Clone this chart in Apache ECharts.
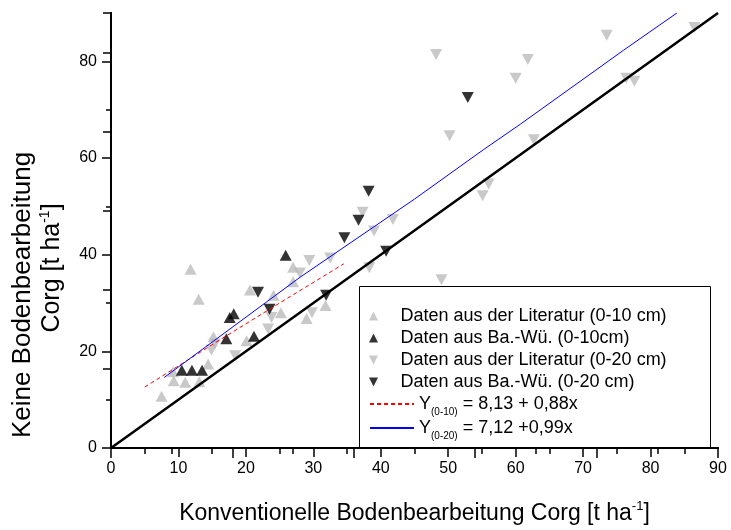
<!DOCTYPE html>
<html>
<head>
<meta charset="utf-8">
<script src="https://cdn.jsdelivr.net/npm/echarts@6/dist/echarts.min.js"></script>
<style>
    html, body { margin: 0; padding: 0; background: #fff; }
    #main { width: 731px; height: 530px; }
</style>
</head>
<body>
<div id="main"></div>
<script>
// Literatur 0-10 cm (grau, Spitze oben)
var litUp = [
    [7.5, 10.7], [9.2, 15.8], [9.3, 13.9], [11.0, 13.6], [13.1, 13.7],
    [11.8, 37.0], [13.0, 30.8], [14.4, 17.4], [15.2, 23.0], [20.1, 22.2],
    [20.6, 32.7], [24.1, 31.6], [25.2, 28.0], [27.0, 37.4], [27.0, 34.4],
    [29.0, 26.8], [31.8, 29.5]
];
// Ba.-Wü. 0-10 cm (schwarz, Spitze oben)
var bwUp = [
    [10.5, 16.1], [12.0, 16.1], [13.5, 16.1], [17.1, 22.6], [17.6, 27.0],
    [18.2, 27.8], [21.2, 23.1], [25.9, 39.9]
];
// Literatur 0-20 cm (grau, Spitze unten)
var litDown = [
    [14.9, 20.3], [15.4, 21.5], [18.4, 19.1], [23.3, 24.6], [23.8, 27.0],
    [28.0, 36.2], [29.4, 38.8], [29.8, 28.0], [32.5, 39.3], [37.3, 48.8],
    [38.3, 37.3], [39.0, 44.9], [41.8, 47.3], [48.2, 81.4], [49.0, 34.8],
    [50.2, 64.6], [55.1, 52.2], [56.0, 54.6], [60.0, 76.5], [61.8, 80.4],
    [62.7, 63.8], [73.5, 85.4], [76.4, 76.5], [77.6, 75.9], [86.5, 87.0]
];
// Ba.-Wü. 0-20 cm (schwarz, Spitze unten)
var bwDown = [
    [21.8, 32.2], [23.5, 28.7], [31.9, 31.6], [34.6, 43.5], [36.7, 47.1],
    [38.2, 53.1], [40.8, 40.7], [52.9, 72.5]
];
// Regressionen und 1:1-Linie
var fit010 = [[5.0, 12.6], [15.7, 22.0], [25.0, 30.0], [31.0, 35.1], [34.5, 38.1]];
var fit020 = [[7.9, 14.6], [28.0, 35.3], [45.0, 51.5], [55.2, 61.7], [60.7, 67.0], [76.0, 82.3], [83.9, 90.0]];
var diag = [[0, 0], [90, 90]];

var names = [
    'Daten aus der Literatur (0-10 cm)',
    'Daten aus Ba.-Wü. (0-10cm)',
    'Daten aus der Literatur (0-20 cm)',
    'Daten aus Ba.-Wü. (0-20 cm)',
    'Y(0-10) = 8,13 + 0,88x',
    'Y(0-20) = 7,12 +0,99x'
];

var FONT = '"Liberation Sans", Arial, sans-serif';
var GRAY = '#bbbbbb';
var UP = 'path://M0,10 L5,0 L10,10 Z';
var DOWN = 'path://M0,0 L10,0 L5,10 Z';

var myChart = echarts.init(document.getElementById('main'));

function scatter(name, data, color, rot) {
    return {
        name: name,
        type: 'scatter',
        data: data,
        symbol: 'triangle',
        symbolRotate: rot,
        symbolSize: [12, 11],
        itemStyle: { color: color },
        z: 2
    };
}

var frame = { show: true, lineStyle: { color: '#000', width: 2 } };

var option = {
    animation: false,
    textStyle: { fontFamily: FONT },
    grid: { left: 111, right: 13, top: 13, bottom: 81 },
    xAxis: [
        {
            type: 'value', position: 'bottom', min: 0, max: 90, interval: 10,
            axisLine: frame,
            axisTick: { inside: false, length: 9, lineStyle: { color: '#000', width: 1.5 } },
            minorTick: { show: true, splitNumber: 2, length: 6, lineStyle: { color: '#000', width: 1.5 } },
            axisLabel: { fontSize: 16, color: '#000', margin: 13, fontFamily: FONT },
            splitLine: { show: false },
            name: '{m|Konventionelle Bodenbearbeitung Corg [t ha}{s|-1}{m|]}',
            nameLocation: 'middle',
            nameGap: 52,
            nameTextStyle: {
                rich: {
                    m: { fontSize: 23, color: '#000', fontFamily: FONT },
                    s: { fontSize: 13, color: '#000', fontFamily: FONT, padding: [0, 0, 14, 0] }
                }
            }
        },
        {
            type: 'value', position: 'top', min: 0, max: 100, interval: 20,
            axisLine: frame,
            axisTick: { inside: true, length: 10, lineStyle: { color: '#000', width: 1.5 } },
            minorTick: { show: true, splitNumber: 2, length: 6, lineStyle: { color: '#000', width: 1.5 } },
            axisLabel: { show: false },
            splitLine: { show: false }
        }
    ],
    yAxis: [
        {
            type: 'value', position: 'left', min: 0, max: 90, interval: 20,
            axisLine: frame,
            axisTick: { inside: false, length: 9, lineStyle: { color: '#000', width: 1.5 } },
            axisLabel: { fontSize: 16, color: '#000', margin: 14, fontFamily: FONT, showMaxLabel: false },
            splitLine: { show: false }
        },
        {
            type: 'value', position: 'right', min: 0, max: 110, interval: 20,
            axisLine: frame,
            axisTick: { inside: true, length: 8, lineStyle: { color: '#000', width: 1.5 } },
            axisLabel: { show: false },
            splitLine: { show: false }
        },
        {
            // kurze Zwischenstriche links
            type: 'value', position: 'left', min: 0, max: 90, interval: 10,
            axisLine: frame,
            axisTick: { inside: false, length: 5, lineStyle: { color: '#000', width: 1.5 } },
            axisLabel: { show: false },
            splitLine: { show: false }
        }
    ],
    legend: [
        {
            orient: 'vertical', left: 364, top: 302,
            itemWidth: 44, itemHeight: 9, itemGap: 4,
            selectedMode: false,
            textStyle: { fontSize: 18, color: '#000', fontFamily: FONT },
            data: [
                { name: names[0], icon: UP },
                { name: names[1], icon: UP },
                { name: names[2], icon: DOWN },
                { name: names[3], icon: DOWN }
            ]
        },
        {
            orient: 'vertical', left: 364, top: 386,
            itemWidth: 44, itemHeight: 9, itemGap: -2,
            selectedMode: false,
            itemStyle: { opacity: 0 },
            data: [names[4], names[5]],
            formatter: function (name) {
                var p = name.indexOf(')');
                return '{m|Y}{s|' + name.slice(1, p + 1) + '}{m|' + name.slice(p + 1) + '}';
            },
            textStyle: {
                rich: {
                    m: { fontSize: 18, lineHeight: 18, color: '#000', fontFamily: FONT },
                    s: { fontSize: 10, lineHeight: 10, color: '#000', fontFamily: FONT, padding: [16, 0, 0, 0] }
                }
            }
        }
    ],
    graphic: [
        {
            type: 'rect', z: 1,
            shape: { x: 359.5, y: 286.5, width: 351, height: 162 },
            style: { fill: 'none', stroke: '#000', lineWidth: 1 }
        },
        {
            type: 'text', x: 23, y: 295, rotation: Math.PI / 2,
            style: {
                text: 'Keine Bodenbearbeitung', fontSize: 26, fontFamily: FONT, fill: '#000',
                align: 'center', verticalAlign: 'middle'
            }
        },
        {
            type: 'text', x: 52, y: 268, rotation: Math.PI / 2,
            style: {
                text: '{m|Corg [t ha}{s|-1}{m|]}', fill: '#000',
                align: 'center', verticalAlign: 'middle',
                rich: {
                    m: { fontSize: 25, fontFamily: FONT, fill: '#000' },
                    s: { fontSize: 14, fontFamily: FONT, fill: '#000', padding: [0, 0, 14, 0] }
                }
            }
        }
    ],
    series: [
        scatter(names[0], litUp, GRAY, 0),
        scatter(names[2], litDown, GRAY, 180),
        scatter(names[1], bwUp, '#000', 0),
        scatter(names[3], bwDown, '#000', 180),
        {
            name: names[4], type: 'line', data: fit010, symbol: 'none', z: 3,
            itemStyle: { color: '#ff0000' },
            lineStyle: { color: '#ff0000', width: 1, type: [4, 3] }
        },
        {
            name: names[5], type: 'line', data: fit020, symbol: 'none', z: 3,
            itemStyle: { color: '#0000ff' },
            lineStyle: { color: '#0000ff', width: 1 }
        },
        {
            name: '1:1', type: 'line', data: diag, symbol: 'none', z: 3,
            itemStyle: { color: '#000' },
            lineStyle: { color: '#000', width: 2.5 }
        }
    ]
};

myChart.setOption(option);
</script>
</body>
</html>
